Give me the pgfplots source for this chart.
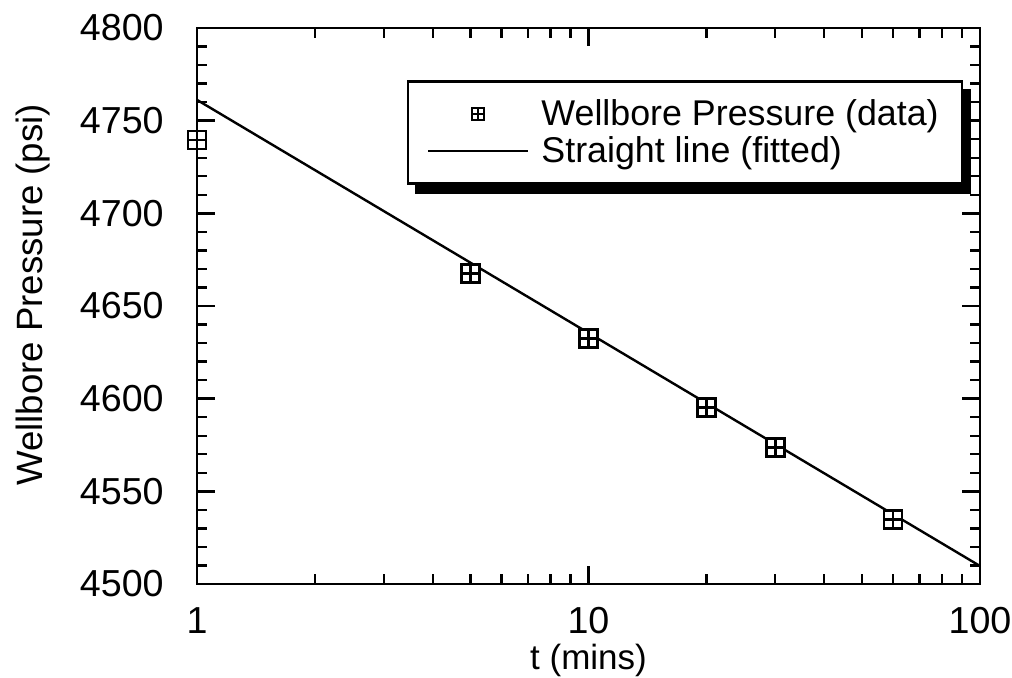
\documentclass[border=0pt]{standalone}
\usepackage{fontspec}
\setmainfont{Liberation Sans}
\usepackage{pgfplots}
\pgfplotsset{compat=1.18}
\pgfdeclarelayer{background}
\pgfsetlayers{background,main}
\pgfdeclareplotmark{sqplus}{%
  \pgfpathrectangle{\pgfqpoint{-\pgfplotmarksize}{-\pgfplotmarksize}}{\pgfqpoint{2\pgfplotmarksize}{2\pgfplotmarksize}}%
  \pgfusepathqfillstroke
  \pgfpathmoveto{\pgfqpoint{-\pgfplotmarksize}{0pt}}\pgfpathlineto{\pgfqpoint{\pgfplotmarksize}{0pt}}%
  \pgfpathmoveto{\pgfqpoint{0pt}{-\pgfplotmarksize}}\pgfpathlineto{\pgfqpoint{0pt}{\pgfplotmarksize}}%
  \pgfusepathqstroke}
\pgfplotsset{
  legmark/.style={legend image code/.code={\draw[black, fill=white, line width=1pt, mark=sqplus, mark size=3pt] plot coordinates {(25pt,0pt)};}},
  legline/.style={legend image code/.code={\draw[black, line width=1.2pt] (0pt,0pt) -- (50pt,0pt);}},
}
\begin{document}
\begin{tikzpicture}
\path (-98.5pt,-47pt) rectangle (407.5pt,292pt);
\begin{axis}[
  scale only axis,
  width=391.5pt, height=278pt,
  xmode=log,
  xmin=1, xmax=100,
  ymin=4500, ymax=4800,
  xtick={1,10,100},
  xticklabels={1,10,100},
  ytick={4500,4550,...,4800},
  minor ytick={4510,4520,...,4790},
  tick align=inside,
  xtick pos=both, ytick pos=both,
  major tick length=9pt,
  minor tick length=5pt,
  every tick/.style={line width=1.2pt, black},
  axis line style={line width=1.2pt},
  /pgf/number format/assume math mode=true,
  /pgf/number format/1000 sep={},
  tick label style={font=\fontsize{18.8}{21}\selectfont},
  xticklabel style={anchor=base, yshift=-25pt, inner sep=0pt},
  yticklabel style={anchor=east, xshift=-16.5pt, inner sep=0pt},
  label style={font=\fontsize{18.3}{22}\selectfont, inner sep=0pt},
  xlabel={t (mins)},
  xlabel style={at={(axis description cs:0.5,0)}, anchor=base, yshift=-43pt, font=\fontsize{17.5}{21}\selectfont},
  ylabel={Wellbore Pressure (psi)},
  ylabel style={at={(axis description cs:-0.1967,0.52)}, anchor=base},
  legend style={
    name=leg,
    at={(0.268,0.906)}, anchor=north west,
    draw=black, line width=1.2pt, fill=white,
    font=\fontsize{17.9}{21}\selectfont,
    inner xsep=9.5pt, inner ysep=7pt,
    column sep=4pt,
    cells={anchor=west},
  },
  legend cell align=left,
]
\addplot[black, line width=1.2pt, sharp plot, forget plot]
  table {
x y
1 4761.2
100 4509.7
};
\addplot[only marks, mark=sqplus, mark size=4.5pt, line width=1.3pt, draw=black, fill=white, forget plot]
  table {
x y
1 4739.6
5 4667.6
10 4632.6
20 4595.3
30 4573.5
60 4534.9
};
\addlegendimage{legmark}
\addlegendentry{Wellbore Pressure (data)}
\addlegendimage{legline}
\addlegendentry{Straight line (fitted)}
\end{axis}
\begin{pgfonlayer}{background}
\fill[black] ([xshift=4pt,yshift=-4.5pt]leg.south west) rectangle ([xshift=4pt,yshift=-4.5pt]leg.north east);
\end{pgfonlayer}
\end{tikzpicture}
\end{document}
